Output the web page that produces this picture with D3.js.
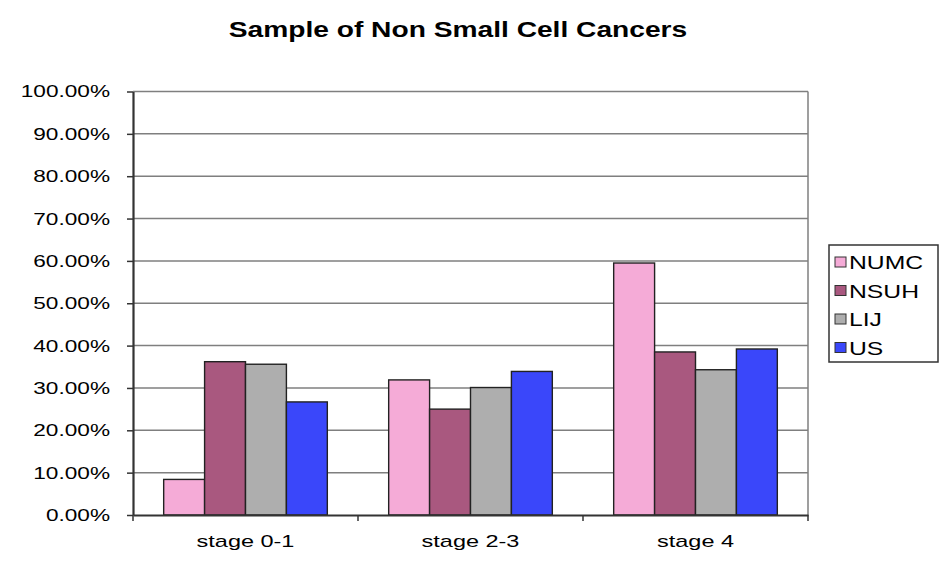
<!DOCTYPE html>
<html>
<head>
<meta charset="utf-8">
<script src="https://cdn.jsdelivr.net/npm/d3@7"></script>
<style>
  body { margin: 0; background: #fff; }
  text { font-family: "Liberation Sans", Arial, sans-serif; fill: #000; }
</style>
</head>
<body>
<svg id="chart" width="945" height="571"></svg>
<script>
// data
var categories = ["stage 0-1", "stage 2-3", "stage 4"];
var seriesNames = ["NUMC", "NSUH", "LIJ", "US"];
var numc = [0.084, 0.319, 0.595];
var nsuh = [0.362, 0.250, 0.385];
var lij = [0.356, 0.301, 0.343];
var us = [0.267, 0.339, 0.392];
var yTicks = [0, 0.1, 0.2, 0.3, 0.4, 0.5, 0.6, 0.7, 0.8, 0.9, 1.0];

var seriesValues = [numc, nsuh, lij, us];
var colors = ["#F5ABD7", "#A9587F", "#AEAEAE", "#3A47FA"];

var svg = d3.select("#chart");

// plot area (window.top is taken, so own names)
var plotLeft = 133, plotRight = 808, plotTop = 91.5, plotBottom = 515;

var x0 = d3.scaleBand().domain(categories).range([plotLeft, plotRight]).padding(0);
var x1 = d3.scaleBand().domain(seriesNames).range([0, x0.bandwidth()])
    .paddingInner(0).paddingOuter(0.75);
var y = d3.scaleLinear().domain([0, 1]).range([plotBottom, plotTop]);

// stretch text sideways, the picture is wider than tall
function stretch(sel, sx) {
    sel.each(function() {
        var len = this.getComputedTextLength();
        d3.select(this).attr("textLength", len * sx).attr("lengthAdjust", "spacingAndGlyphs");
    });
}

// title
svg.append("text")
    .attr("x", 458).attr("y", 37)
    .attr("text-anchor", "middle")
    .style("font-size", "22px").style("font-weight", "bold")
    .text("Sample of Non Small Cell Cancers")
    .call(stretch, 1.28);

// gridlines
svg.append("g")
    .selectAll("line")
    .data(yTicks.slice(1))
    .enter().append("line")
    .attr("x1", plotLeft).attr("x2", plotRight)
    .attr("y1", function(d) { return y(d); })
    .attr("y2", function(d) { return y(d); })
    .attr("stroke", "#7f7f7f").attr("stroke-width", 1.5);

// right border of plot
svg.append("line")
    .attr("x1", plotRight).attr("x2", plotRight).attr("y1", plotTop).attr("y2", plotBottom)
    .attr("stroke", "#7f7f7f").attr("stroke-width", 1.5);

// bars
var groups = svg.append("g").selectAll("g")
    .data(seriesNames)
    .enter().append("g")
    .attr("fill", function(d, i) { return colors[i]; });

groups.selectAll("rect")
    .data(function(d, i) {
        return categories.map(function(c, j) { return { cat: c, s: d, v: seriesValues[i][j] }; });
    })
    .enter().append("rect")
    .attr("x", function(d) { return x0(d.cat) + x1(d.s); })
    .attr("width", x1.bandwidth())
    .attr("y", function(d) { return y(d.v); })
    .attr("height", function(d) { return plotBottom - y(d.v); })
    .attr("stroke", "#222").attr("stroke-width", 1.4);

// y axis
var yAxis = svg.append("g")
    .attr("transform", "translate(" + plotLeft + ",0)")
    .call(d3.axisLeft(y).tickValues(yTicks).tickFormat(d3.format(".2%"))
        .tickSizeInner(6).tickSizeOuter(0).tickPadding(17));
yAxis.select(".domain").attr("stroke", "#333").attr("stroke-width", 2.2);
yAxis.selectAll(".tick line").attr("stroke", "#333").attr("stroke-width", 1.5);
yAxis.selectAll("text").style("font-size", "17px").attr("fill", "#111").call(stretch, 1.33);

// x axis
var xAxis = svg.append("g")
    .attr("transform", "translate(0," + plotBottom + ")")
    .call(d3.axisBottom(x0).tickSize(0).tickPadding(20));
xAxis.select(".domain").attr("stroke", "#333").attr("stroke-width", 2.2);
xAxis.selectAll("text").style("font-size", "17px").attr("fill", "#111").call(stretch, 1.38);

// category separator ticks
svg.append("g").selectAll("line")
    .data(categories.concat([null]))
    .enter().append("line")
    .attr("x1", function(d, i) { return plotLeft + i * x0.step(); })
    .attr("x2", function(d, i) { return plotLeft + i * x0.step(); })
    .attr("y1", plotBottom).attr("y2", plotBottom + 6)
    .attr("stroke", "#333").attr("stroke-width", 1.5);

// legend
var legend = svg.append("g").attr("transform", "translate(829,245)");
legend.append("rect")
    .attr("width", 109).attr("height", 117)
    .attr("fill", "#fff").attr("stroke", "#333").attr("stroke-width", 1.5);

var items = legend.selectAll("g.item")
    .data(seriesNames)
    .enter().append("g")
    .attr("class", "item")
    .attr("transform", function(d, i) { return "translate(0," + (17 + i * 28.5) + ")"; });

items.append("rect")
    .attr("x", 6).attr("y", -5).attr("width", 11).attr("height", 10)
    .attr("fill", function(d, i) { return colors[i]; })
    .attr("stroke", "#333").attr("stroke-width", 1);

items.append("text")
    .attr("x", 20).attr("y", 7)
    .style("font-size", "19px")
    .text(function(d) { return d; })
    .call(stretch, 1.3);
</script>
</body>
</html>
